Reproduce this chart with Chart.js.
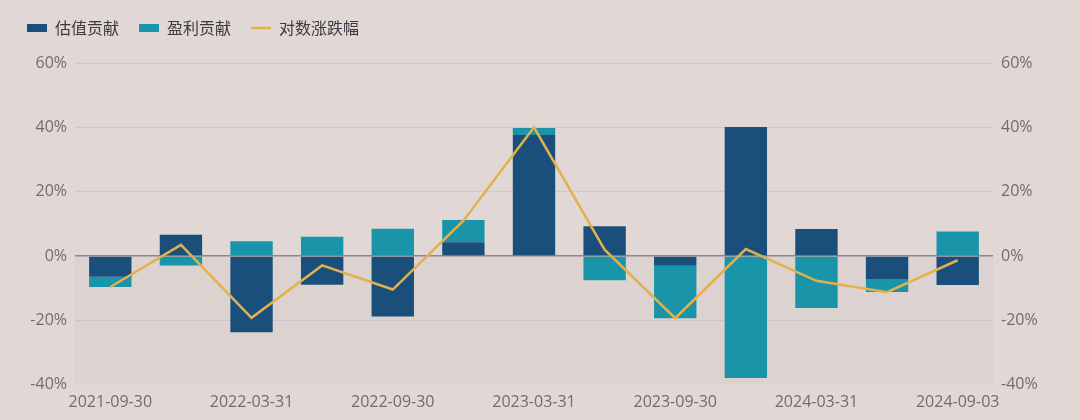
<!DOCTYPE html>
<html>
<head>
<meta charset="utf-8">
<script src="https://cdn.jsdelivr.net/npm/chart.js@4.4.1/dist/chart.umd.min.js"></script>
<style>
  html, body { margin: 0; padding: 0; background: #e1d8d5; }
  #wrap { width: 1080px; height: 420px; }
</style>
</head>
<body>
<div id="wrap"><canvas id="c"></canvas></div>
<script>
// --- data (%) ---
const dates = ['2021-09-30', '2021-12-31', '2022-03-31', '2022-06-30', '2022-09-30', '2022-12-31', '2023-03-31',
    '2023-06-30', '2023-09-30', '2023-12-31', '2024-03-31', '2024-06-30', '2024-09-03'];
const valuation = [-6.4, 6.6, -23.7, -8.9, -18.8, 4.3, 37.6, 9.3, -3.0, 40.1, 8.4, -7.1, -9.0];
const earnings = [-3.2, -2.9, 4.6, 6.0, 8.5, 6.9, 2.2, -7.5, -16.3, -37.9, -16.1, -4.1, 7.6];
const logReturn = [-9.6, 3.5, -19.2, -2.9, -10.4, 11.0, 40.0, 2.0, -19.3, 2.2, -7.7, -11.2, -1.3];
const yTicks = [-40, -20, 0, 20, 40, 60];

const tickFont = { family: "'Open Sans', 'Noto Sans', sans-serif", size: 16 };
const tickColor = '#6e6c74';

// faint darker band below the zero line
const shadeBelowZero = {
    id: 'shadeBelowZero',
    beforeDatasetsDraw(chart) {
        const { ctx, chartArea, scales } = chart;
        const y0 = scales.y.getPixelForValue(0);
        ctx.save();
        ctx.fillStyle = 'rgba(120,90,90,0.045)';
        ctx.fillRect(chartArea.left, y0, chartArea.right - chartArea.left, chartArea.bottom - y0);
        ctx.restore();
    }
};

// extra gap under the legend
const legendGap = {
    id: 'legendGap',
    beforeInit(chart) {
        const fit = chart.legend.fit;
        chart.legend.fit = function () {
            fit.call(this);
            this.height += 17;
        };
    }
};

const gridColor = c => {
    if (c.tick.value === 0) return '#8b8792';
    if (c.tick.value === -40) return 'rgba(0,0,0,0)';
    return '#d0c6d2';
};

new Chart(document.getElementById('c'), {
    type: 'bar',
    data: {
        labels: dates,
        datasets: [
            {
                label: '估值贡献',
                data: valuation,
                backgroundColor: '#1a4f7b',
                stack: 's',
                yAxisID: 'y',
                order: 2,
                pointStyle: 'rect',
                categoryPercentage: 0.6,
                barPercentage: 1
            },
            {
                label: '盈利贡献',
                data: earnings,
                backgroundColor: '#1994a8',
                stack: 's',
                yAxisID: 'y',
                order: 2,
                pointStyle: 'rect',
                categoryPercentage: 0.6,
                barPercentage: 1
            },
            {
                type: 'line',
                label: '对数涨跌幅',
                data: logReturn,
                borderColor: '#e2b14c',
                backgroundColor: '#e2b14c',
                borderWidth: 2.5,
                pointRadius: 0,
                pointStyle: 'line',
                tension: 0,
                yAxisID: 'y',
                order: 1
            }
        ]
    },
    options: {
        responsive: true,
        maintainAspectRatio: false,
        animation: false,
        layout: { padding: { left: 7, right: 0, top: 0, bottom: 8 } },
        plugins: {
            legend: {
                position: 'top',
                align: 'start',
                labels: {
                    usePointStyle: true,
                    pointStyleWidth: 20,
                    boxHeight: 8,
                    padding: 20,
                    color: '#3a3a40',
                    font: { family: "'Noto Sans CJK SC', sans-serif", size: 16 },
                    sort: (a, b) => a.datasetIndex - b.datasetIndex
                }
            },
            tooltip: { enabled: false }
        },
        scales: {
            x: {
                offset: true,
                grid: { display: false },
                border: { display: false },
                ticks: {
                    autoSkip: false,
                    maxRotation: 0,
                    padding: 0,
                    color: tickColor,
                    font: tickFont,
                    callback: (v, i) => (i % 2 === 0 ? dates[i] : '')
                }
            },
            y: {
                position: 'left',
                stacked: true,
                min: -40,
                max: 60,
                afterBuildTicks: s => { s.ticks = yTicks.map(v => ({ value: v })); },
                afterFit: s => { s.width = 68; },
                grid: { color: gridColor, lineWidth: c => (c.tick.value === 0 ? 1.5 : 1), drawTicks: false },
                border: { display: false },
                ticks: { padding: 8, color: tickColor, font: tickFont, callback: v => v + '%' }
            },
            y2: {
                position: 'right',
                min: -40,
                max: 60,
                afterBuildTicks: s => { s.ticks = yTicks.map(v => ({ value: v })); },
                afterFit: s => { s.width = 87; },
                grid: { display: false, drawTicks: false },
                border: { display: false },
                ticks: { padding: 8, color: tickColor, font: tickFont, callback: v => v + '%' }
            }
        }
    },
    plugins: [shadeBelowZero, legendGap]
});
</script>
</body>
</html>
